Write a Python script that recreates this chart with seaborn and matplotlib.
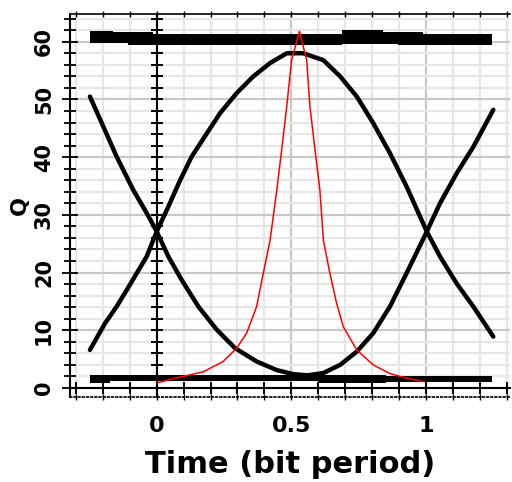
import numpy as np
import pandas as pd
import matplotlib
matplotlib.use('Agg')
import matplotlib.pyplot as plt
import seaborn as sns
from matplotlib.ticker import MultipleLocator, FixedLocator

# 眼图 Q 值随时间变化
# 两条黑色曲线 (上升沿/下降沿)
t_upper = [-0.248, -0.192, -0.149, -0.111, -0.074, -0.037, 0.0, 0.043, 0.087, 0.130,
           0.186, 0.235, 0.297, 0.359, 0.421, 0.483, 0.544, 0.619, 0.681, 0.743,
           0.804, 0.866, 0.928, 1.003, 1.052, 1.114, 1.176, 1.25]
q_upper = [6.6, 11.2, 14.1, 17.0, 19.9, 22.8, 27.1, 31.4, 36.0, 40.1,
           44.1, 47.6, 51.1, 54.0, 56.3, 58.0, 58.0, 56.8, 54.0, 50.5,
           45.9, 40.7, 34.9, 27.1, 22.8, 18.1, 14.1, 8.9]

t_lower = [-0.248, -0.204, -0.149, -0.087, -0.037, 0.0, 0.043, 0.093, 0.155, 0.223,
           0.291, 0.371, 0.446, 0.507, 0.56, 0.619, 0.681, 0.743, 0.804, 0.866,
           0.928, 1.003, 1.052, 1.114, 1.176, 1.25]
q_lower = [50.5, 45.9, 40.1, 34.3, 30.3, 27.1, 22.8, 18.7, 14.1, 10.1,
           6.9, 4.6, 3.1, 2.4, 2.2, 2.6, 4.0, 6.3, 9.5, 14.1,
           19.9, 27.1, 32.0, 37.2, 41.8, 48.2]

# 红色曲线 (Q 因子)
t_red = [0.002, 0.087, 0.173, 0.247, 0.297, 0.334, 0.371, 0.396, 0.421, 0.446,
         0.464, 0.483, 0.501, 0.53, 0.557, 0.569, 0.588, 0.606, 0.619, 0.643,
         0.668, 0.693, 0.743, 0.804, 0.866, 0.928, 0.99]
q_red = [0.9, 1.9, 2.8, 4.6, 6.9, 9.5, 14.1, 19.9, 25.6, 34.3,
         41.2, 48.8, 56.8, 61.8, 56.8, 48.8, 41.2, 34.3, 25.6, 19.9,
         14.7, 10.6, 6.6, 4.0, 2.5, 1.7, 1.1]

# 顶部和底部的粗带
top_t = [-0.248, -0.161, -0.105, -0.012, 0.687, 0.841, 0.897, 0.99, 1.244]
top_hi = [61.9, 61.6, 61.6, 61.4, 62.0, 61.6, 61.6, 61.4, 61.4]
top_lo = [59.8, 59.8, 59.5, 59.5, 59.6, 59.6, 59.4, 59.4, 59.4]

bot_t = [-0.248, -0.173, 0.60, 0.85, 1.244]
bot_hi = [2.25, 2.25, 2.2, 2.1, 2.1]
bot_lo = [0.8, 1.2, 0.9, 1.1, 1.1]

x_major = [0, 0.5, 1]
x_labels = ['0', '0.5', '1']
y_major = [0, 10, 20, 30, 40, 50, 60]

sns.set_style('white')
plt.rcParams['font.family'] = ['DejaVu Sans']
plt.rcParams['font.weight'] = 'bold'
plt.rcParams['text.color'] = 'black'
plt.rcParams['axes.labelcolor'] = 'black'
plt.rcParams['xtick.color'] = 'black'
plt.rcParams['ytick.color'] = 'black'

fig = plt.figure(figsize=(5.12, 4.82), dpi=100)
ax = fig.add_axes([70 / 512, 1 - 397 / 482, 440 / 512, 383 / 482])

xlim = (-0.322, 1.312)
ylim = (-1.56, 64.8)
ax.set_xlim(*xlim)
ax.set_ylim(*ylim)

# 网格
ax.xaxis.set_major_locator(FixedLocator(x_major))
ax.xaxis.set_minor_locator(MultipleLocator(0.1))
ax.yaxis.set_major_locator(FixedLocator(y_major))
ax.yaxis.set_minor_locator(MultipleLocator(2))
ax.grid(which='minor', color='#e6e6e6', lw=1.6)
ax.grid(which='major', color='#c8c8c8', lw=1.6)
ax.set_axisbelow(True)

# 粗带
ax.fill_between(top_t, top_lo, top_hi, step='post', color='black', lw=0, zorder=3)
ax.fill_between(bot_t, bot_lo, bot_hi, step='post', color='black', lw=0, zorder=3)

# 曲线
sns.lineplot(x=t_upper, y=q_upper, color='black', lw=3.2, ax=ax, estimator=None, sort=False, zorder=4)
sns.lineplot(x=t_lower, y=q_lower, color='black', lw=3.2, ax=ax, estimator=None, sort=False, zorder=4)
sns.lineplot(x=t_red, y=q_red, color='red', lw=1.1, ax=ax, estimator=None, sort=False, zorder=5)

ax.set_xticklabels(x_labels)
ax.tick_params(axis='x', which='both', direction='inout', length=4, width=1, pad=12,
               labelsize=16, bottom=True, top=True)
ax.tick_params(axis='y', which='major', direction='inout', length=11, width=1.3, pad=6,
               labelsize=15, labelrotation=90, left=True)
ax.tick_params(axis='y', which='minor', direction='inout', length=8, width=1.3, left=True)
for lab in ax.get_yticklabels():
    lab.set_va('center')
    lab.set_fontweight('bold')
for lab in ax.get_xticklabels():
    lab.set_fontweight('bold')

# 边框
ax.spines['right'].set_visible(False)
ax.spines['top'].set_color('black')
ax.spines['top'].set_linewidth(1.2)
ax.spines['left'].set_color('black')
ax.spines['left'].set_linewidth(1.5)
ax.spines['bottom'].set_color('black')
ax.spines['bottom'].set_linestyle((0, (1, 1.5)))
ax.spines['bottom'].set_linewidth(1.2)

# Q=0 处的横轴和 t=0 处的纵轴
y0 = (0 - ylim[0]) / (ylim[1] - ylim[0])
x0 = (0 - xlim[0]) / (xlim[1] - xlim[0])
secx = ax.secondary_xaxis(y0)
secx.set_zorder(2)
secx.set_xticks(x_major)
secx.xaxis.set_minor_locator(MultipleLocator(0.1))
secx.tick_params(which='both', direction='inout', length=9, width=1.2, color='black',
                 bottom=True, top=True, labelbottom=False, labeltop=False)
for s in secx.spines.values():
    s.set_linewidth(1.5)
    s.set_color('black')
secy = ax.secondary_yaxis(x0)
secy.set_zorder(2)
secy.set_yticks(y_major)
secy.yaxis.set_minor_locator(MultipleLocator(2))
secy.tick_params(which='both', direction='inout', length=9, width=1.3, color='black',
                 left=True, right=True, labelleft=False, labelright=False)
for s in secy.spines.values():
    s.set_linewidth(1.5)
    s.set_color('black')

ax.set_xlabel('Time (bit period)', fontsize=22, fontweight='bold', labelpad=10)
ax.set_ylabel('Q', fontsize=16, fontweight='bold', labelpad=3)

fig.savefig('out.png', dpi=100)
